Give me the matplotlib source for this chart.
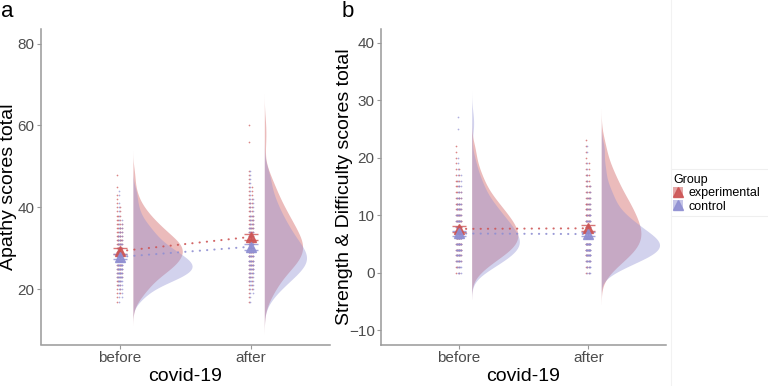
import numpy as np
import matplotlib.pyplot as plt
from matplotlib.lines import Line2D
from matplotlib.patches import Patch

plt.rcParams['font.family'] = ['Liberation Sans', 'DejaVu Sans']

# ---------------- data (score -> number of respondents)
times = ["before", "after"]
groups = ["experimental", "control"]

# apathy scores, panel a
ap_start_before_exp = 17
ap_counts_before_exp = [1, 1, 2, 2, 3, 3, 4, 5, 6, 7, 7, 8, 8, 8, 8, 7, 6, 5, 5, 4,
                        3, 3, 2, 2, 1, 1, 1, 0, 1, 0, 0, 1]
ap_start_before_ctrl = 17
ap_counts_before_ctrl = [1, 2, 2, 3, 4, 6, 8, 9, 10, 10, 9, 8, 7, 6, 5, 4, 4, 3, 3, 2,
                         2, 1, 1, 1, 1, 0, 1, 1]
ap_start_after_exp = 17
ap_counts_after_exp = [1, 1, 1, 2, 2, 2, 3, 3, 4, 5, 5, 6, 6, 6, 6, 6, 5, 5, 5, 4,
                       4, 4, 3, 3, 3, 2, 2, 2, 2, 1, 1, 1, 1, 0, 0, 0, 0, 0, 0, 1,
                       0, 0, 0, 1]
ap_start_after_ctrl = 17
ap_counts_after_ctrl = [1, 1, 2, 2, 3, 4, 4, 5, 6, 6, 7, 7, 6, 6, 5, 5, 4, 4, 4, 3,
                        3, 3, 2, 2, 2, 2, 1, 1, 1, 1, 1, 1, 1]
ap_mean_exp = [29.3, 32.8]
ap_se_exp = [0.7, 0.8]
ap_mean_ctrl = [27.9, 30.4]
ap_se_ctrl = [0.6, 0.7]

# strength & difficulty scores, panel b
sdq_start_before_exp = 0
sdq_counts_before_exp = [2, 3, 5, 7, 9, 10, 11, 10, 10, 9, 8, 7, 6, 5, 4, 3, 3, 2, 2, 1,
                         1, 1, 1]
sdq_start_before_ctrl = 0
sdq_counts_before_ctrl = [3, 5, 7, 9, 11, 11, 11, 10, 9, 8, 7, 6, 5, 4, 3, 3, 2, 2, 1, 1,
                          1, 0, 0, 0, 0, 1, 0, 1]
sdq_start_after_exp = 0
sdq_counts_after_exp = [2, 3, 4, 6, 7, 8, 8, 8, 8, 7, 7, 6, 6, 5, 4, 4, 3, 3, 2, 2,
                        1, 1, 1, 1]
sdq_start_after_ctrl = 0
sdq_counts_after_ctrl = [3, 5, 8, 11, 13, 13, 12, 10, 8, 7, 5, 4, 3, 3, 2, 2, 1, 1, 1, 1,
                         0, 1, 1]
sdq_mean_exp = [7.6, 7.7]
sdq_se_exp = [0.5, 0.5]
sdq_mean_ctrl = [6.8, 6.7]
sdq_se_ctrl = [0.4, 0.4]

red = '#CD5555'
blue = '#8F8FD2'


def expand(start, counts):
    scores = np.arange(start, start + len(counts))
    return np.repeat(scores, counts).astype(float)


def kde(vals, n=512):
    # gaussian kernel, bw.nrd0, not trimmed (like ggplot trim = FALSE)
    q75, q25 = np.percentile(vals, [75, 25])
    bw = 0.9 * min(vals.std(ddof=1), (q75 - q25) / 1.34) * len(vals) ** -0.2
    grid = np.linspace(vals.min() - 3 * bw, vals.max() + 3 * bw, n)
    d = np.exp(-0.5 * ((grid[:, None] - vals[None, :]) / bw) ** 2).sum(1)
    d = d / (len(vals) * bw * np.sqrt(2 * np.pi))
    return grid, d


def strip(vals, x, phase):
    # deterministic spread of the raw points around the category
    xs = []
    counter = {}
    for v in vals:
        k = counter.get(v, 0)
        counter[v] = k + 1
        xs.append(x + (((k + phase) * 0.618) % 1 - 0.5) * 0.04)
    return np.array(xs)


def panel(ax, data, means, ses, ylim, yticks, ylabel, label_x):
    # data: {(time, group): values}
    dens = {key: kde(v) for key, v in data.items()}
    scale = 0.45 / max(d.max() for _, d in dens.values())
    for ti, t in enumerate(times):
        x = ti + 1
        for g, col in zip(groups, [red, blue]):
            grid, d = dens[(t, g)]
            ax.fill_betweenx(grid, x + 0.1, x + 0.1 + d * scale, color=col,
                             alpha=0.4, lw=0, zorder=1)
        for gi, (g, col) in enumerate(zip(groups, [red, blue])):
            v = data[(t, g)]
            ax.scatter(strip(v, x, gi * 0.5), v, s=1.5, color=col, alpha=0.7,
                       lw=0, zorder=2)
    xs = np.arange(1, len(times) + 1)
    for g, col in zip(groups, [red, blue]):
        ax.plot(xs, means[g], color=col, lw=1.5, ls=(0, (0.1, 3.4)),
                dash_capstyle='round', alpha=0.9, zorder=3)
        ax.errorbar(xs, means[g], yerr=ses[g], fmt='none', ecolor=col,
                    elinewidth=1, capsize=5, capthick=1, alpha=0.8, zorder=4)
        ax.plot(xs, means[g], ls='none', marker='^', ms=7.5, color=col,
                alpha=0.9, zorder=5)
    ax.set_xlim(0.4, 2.6)
    ax.set_ylim(*ylim)
    ax.set_xticks(xs)
    ax.set_xticklabels(times)
    ax.set_yticks(yticks)
    for s in ['top', 'right']:
        ax.spines[s].set_visible(False)
    for s in ['left', 'bottom']:
        ax.spines[s].set_color('#999999')
        ax.spines[s].set_linewidth(1.1)
    ax.tick_params(colors='#999999', labelcolor='#4D4D4D', labelsize=11,
                   length=3, width=0.8, pad=1.5)
    ax.set_xlabel('covid-19', fontsize=14, labelpad=2)
    ax.set_ylabel(ylabel, fontsize=14)
    ax.yaxis.set_label_coords(label_x, 0.5)


fig = plt.figure(figsize=(7.68, 3.86), dpi=100)
ax_a = fig.add_axes([41 / 768, 1 - 344.5 / 386, 289 / 768, 315.2 / 386])
ax_b = fig.add_axes([381 / 768, 1 - 344.5 / 386, 285 / 768, 315.2 / 386])

ap_data = {
    ("before", "experimental"): expand(ap_start_before_exp, ap_counts_before_exp),
    ("before", "control"): expand(ap_start_before_ctrl, ap_counts_before_ctrl),
    ("after", "experimental"): expand(ap_start_after_exp, ap_counts_after_exp),
    ("after", "control"): expand(ap_start_after_ctrl, ap_counts_after_ctrl),
}
sdq_data = {
    ("before", "experimental"): expand(sdq_start_before_exp, sdq_counts_before_exp),
    ("before", "control"): expand(sdq_start_before_ctrl, sdq_counts_before_ctrl),
    ("after", "experimental"): expand(sdq_start_after_exp, sdq_counts_after_exp),
    ("after", "control"): expand(sdq_start_after_ctrl, sdq_counts_after_ctrl),
}

panel(ax_a, ap_data, {"experimental": ap_mean_exp, "control": ap_mean_ctrl},
      {"experimental": ap_se_exp, "control": ap_se_ctrl},
      (6.5, 83.5), [20, 40, 60, 80], 'Apathy scores total', -0.083)
panel(ax_b, sdq_data, {"experimental": sdq_mean_exp, "control": sdq_mean_ctrl},
      {"experimental": sdq_se_exp, "control": sdq_se_ctrl},
      (-12.5, 42.3), [-10, 0, 10, 20, 30, 40], 'Strength & Difficulty scores total',
      -0.098)

fig.text(1 / 768, 1 - 1 / 386, 'a', fontsize=16, va='top', ha='left')
fig.text(342 / 768, 1 - 1 / 386, 'b', fontsize=16, va='top', ha='left')

# legend
handles = []
for col in [red, blue]:
    handles.append((Patch(facecolor=col, alpha=0.5, lw=0),
                    Line2D([], [], ls='none', marker='^', ms=6.5, color=col, alpha=0.9)))
leg = fig.legend(handles, groups, title='Group', loc='upper left',
                 bbox_to_anchor=(672 / 768, 1 - 173 / 386), frameon=False,
                 fontsize=9, title_fontsize=9, handlelength=0.8, handleheight=0.9,
                 handletextpad=0.4, labelspacing=0.05, borderpad=0.1,
                 borderaxespad=0.0, alignment='left')

# faint boxes around the legend area
for yy in [169, 216]:
    fig.add_artist(Line2D([671 / 768, 1], [1 - yy / 386] * 2, color='#EFEFEF',
                          lw=0.8, transform=fig.transFigure))
fig.add_artist(Line2D([671 / 768] * 2, [0, 1], color='#F2F2F2', lw=0.8,
                      transform=fig.transFigure))

fig.savefig('out.png', dpi=100)
